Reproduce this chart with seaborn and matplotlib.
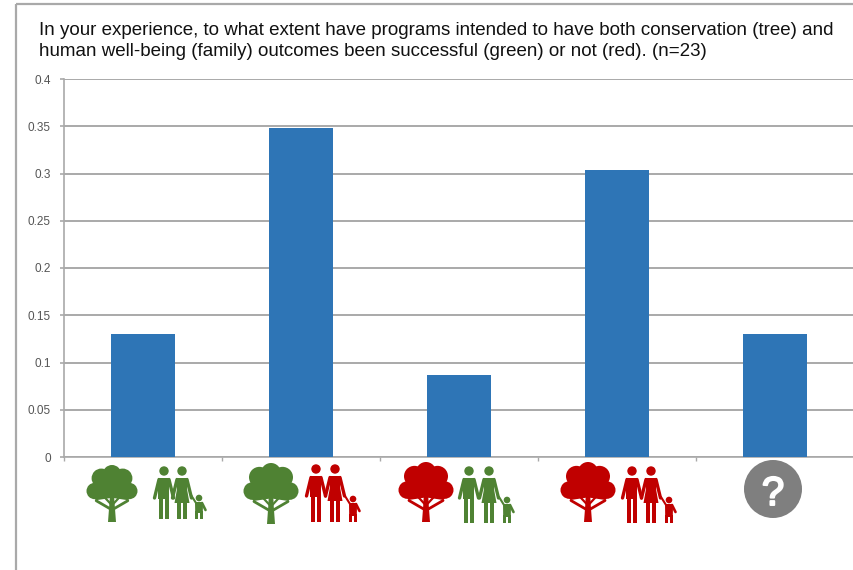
import matplotlib
matplotlib.use("Agg")
import matplotlib.pyplot as plt
import matplotlib.patheffects as pe
from matplotlib.patches import Circle, Polygon, Rectangle
import seaborn as sns
import pandas as pd

categories = ["Tree good, family good", "Tree good, family poor",
              "Tree poor, family good", "Tree poor, family poor", "Unknown"]
values = [0.13, 0.348, 0.087, 0.304, 0.13]
y_ticks = [0, 0.05, 0.1, 0.15, 0.2, 0.25, 0.3, 0.35, 0.4]
y_labels = ["0", "0.05", "0.1", "0.15", "0.2", "0.25", "0.3", "0.35", "0.4"]
title_lines = ["In your experience, to what extent have programs intended to have both conservation (tree) and",
               "human well-being (family) outcomes been successful (green) or not (red). (n=23)"]

BLUE = "#2e75b6"
GREEN = "#4f8233"
RED = "#c00000"
GRAY = "#a9a9a9"
W, H = 854, 570

sns.set_theme(style="white")
plt.rcParams["font.family"] = ["Liberation Sans", "DejaVu Sans"]

fig = plt.figure(figsize=(W / 100, H / 100), dpi=100, facecolor="white")
ax = fig.add_axes([64 / W, 1 - 457 / H, (854 - 64) / W, (457 - 79) / H])

df = pd.DataFrame({"category": categories, "share": values})
sns.barplot(data=df, x="category", y="share", color=BLUE, saturation=1, width=0.4,
            linewidth=0, edgecolor="none", ax=ax, zorder=3)

ax.set_xlim(-0.5, 4.5)
ax.set_ylim(0, 0.4)
ax.set_xlabel("")
ax.set_ylabel("")
ax.set_yticks(y_ticks)
ax.set_yticklabels(y_labels, fontsize=8.5, color="#555555")
ax.set_xticks([i - 0.5 for i in range(6)])
ax.set_xticklabels([""] * 6)
ax.grid(axis="y", color=GRAY, linewidth=1.4, zorder=0)
ax.set_axisbelow(True)
ax.tick_params(axis="y", length=3, width=1.2, color=GRAY, pad=6.5, left=True)
ax.tick_params(axis="x", length=3, width=1.0, color=GRAY, bottom=True)
for side in ["top", "right"]:
    ax.spines[side].set_visible(False)
for side in ["left", "bottom"]:
    ax.spines[side].set_color(GRAY)
    ax.spines[side].set_linewidth(1.2)

# overlay in pixel space for the frame, the heading and the pictograms
ov = fig.add_axes([0, 0, 1, 1], facecolor="none")
ov.set_xlim(0, W)
ov.set_ylim(H, 0)
ov.axis("off")

ov.plot([16, 16], [4, H], color=GRAY, lw=1.6, solid_capstyle="butt")
ov.plot([16, W], [4, 4], color=GRAY, lw=1.6, solid_capstyle="butt")
ov.text(39, 35, title_lines[0], fontsize=13.53, color="#111111", va="baseline", ha="left")
ov.text(39, 56, title_lines[1], fontsize=13.53, color="#111111", va="baseline", ha="left")


def tree(cx, top, bottom, hw, color):
    lobes = [(0, 0.36, 0.36), (-0.42, 0.52, 0.38), (0.42, 0.52, 0.38),
             (-0.68, 1.02, 0.32), (0.68, 1.02, 0.32), (-0.32, 1.10, 0.42),
             (0.32, 1.10, 0.42), (0, 0.85, 0.55)]
    for dx, dy, r in lobes:
        ov.add_patch(Circle((cx + dx * hw, top + dy * hw), r * hw, color=color, lw=0))
    for sx in (-1, 1):
        ov.add_patch(Polygon([(cx + sx * 0.08 * hw, top + 1.30 * hw), (cx + sx * 0.62 * hw, top + 1.38 * hw),
                              (cx + sx * 0.62 * hw, top + 1.70 * hw), (cx + sx * 0.08 * hw, top + 1.70 * hw)],
                             closed=True, color="white", lw=0))
        ov.plot([cx, cx + sx * 0.62 * hw], [top + 1.76 * hw, top + 1.40 * hw], color=color, lw=2.0,
                solid_capstyle="round")
        ov.plot([cx, cx + sx * 0.26 * hw], [top + 1.58 * hw, top + 1.30 * hw], color=color, lw=1.6,
                solid_capstyle="round")
    ov.add_patch(Polygon([(cx - 4, bottom), (cx + 4, bottom), (cx + 2.2, top + 1.3 * hw), (cx - 2.2, top + 1.3 * hw)],
                         closed=True, color=color, lw=0))


def person(cx, head_y, bottom, color, skirt=False):
    ov.add_patch(Circle((cx, head_y), 4.7, color=color, lw=0))
    sh = head_y + 7
    if skirt:
        ov.add_patch(Polygon([(cx - 6, sh), (cx + 6, sh), (cx + 5, sh + 11), (cx + 7.5, sh + 25),
                              (cx - 7.5, sh + 25), (cx - 5, sh + 11)], closed=True, color=color, lw=0))
        legs = [-4.6, 1.2]
        leg_w = 3.4
    else:
        ov.add_patch(Rectangle((cx - 5.5, sh), 11, 21, color=color, lw=0))
        legs = [-5.2, 1.0]
        leg_w = 4.2
    for lx in legs:
        ov.add_patch(Rectangle((cx + lx, sh + 18), leg_w, bottom - sh - 18, color=color, lw=0))
    for sx in (-1, 1):
        ov.plot([cx + sx * 5, cx + sx * 9.5], [sh + 1.5, sh + 20], color=color, lw=2.4,
                solid_capstyle="round")


def child(cx, head_y, bottom, color):
    ov.add_patch(Circle((cx, head_y), 3.3, color=color, lw=0))
    ov.add_patch(Polygon([(cx - 4, head_y + 4), (cx + 4, head_y + 4), (cx + 3.8, bottom - 6), (cx - 3.8, bottom - 6)],
                         closed=True, color=color, lw=0))
    ov.add_patch(Rectangle((cx - 3.8, bottom - 8), 3.2, 8, color=color, lw=0))
    ov.add_patch(Rectangle((cx + 0.6, bottom - 8), 3.2, 8, color=color, lw=0))
    ov.plot([cx + 3, cx + 6.5], [head_y + 5, head_y + 12], color=color, lw=1.9)
    ov.plot([cx - 3, cx - 8], [head_y + 5, head_y - 3], color=color, lw=1.5)


def family(x1, x2, xc, head_y, child_y, bottom, color):
    person(x1, head_y, bottom, color)
    person(x2, head_y, bottom, color, skirt=True)
    child(xc, child_y, bottom, color)


icons = [(112, 465, 522, 25.5, GREEN, 164, 182, 199, 471, 498, 519, GREEN),
         (271, 463, 524, 27.5, GREEN, 316, 335, 353, 469, 499, 522, RED),
         (426, 462, 522, 27.5, RED, 469, 489, 507, 471, 500, 523, GREEN),
         (588, 462, 522, 27.5, RED, 632, 651, 669, 471, 500, 523, RED)]
for cx, t, b, hw, tc, x1, x2, xc, hy, cy, fb, fc in icons:
    tree(cx, t, b, hw, tc)
    family(x1, x2, xc, hy, cy, fb, fc)

ov.add_patch(Circle((773, 489), 29, color="#7f7f7f", lw=0))
ov.text(773, 494, "?", color="white", fontsize=29, ha="center", va="center",
        path_effects=[pe.withStroke(linewidth=1.4, foreground="white")])

fig.savefig("out.png", dpi=100, facecolor="white")
